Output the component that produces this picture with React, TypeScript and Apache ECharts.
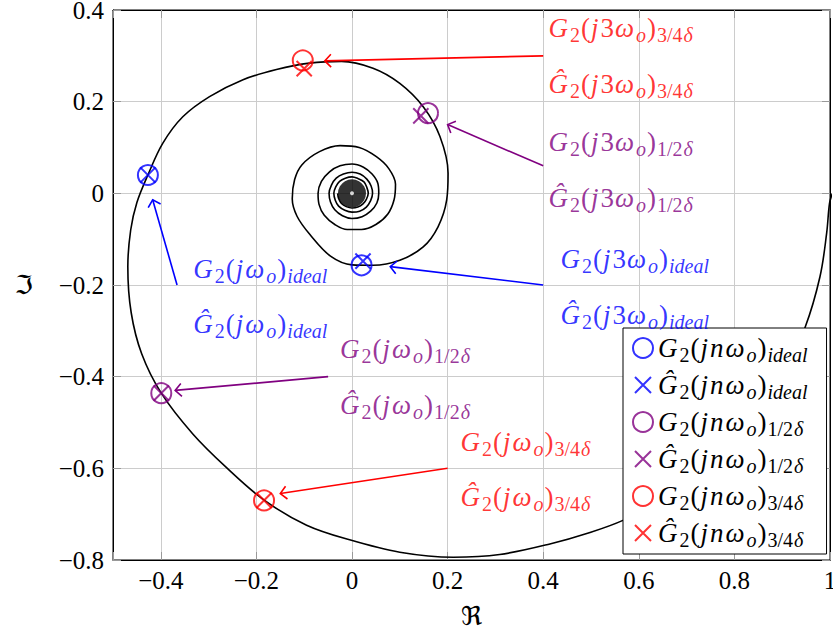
import { useEffect, useRef } from 'react';
import * as echarts from 'echarts';

// Nyquist spiral G2(jω) (Re, Im)
const spiral: [number, number][] = [
  [1.005, 0.0], [0.999, -0.022], [0.993, -0.087], [0.979, -0.182], [0.948, -0.292],
  [0.9, -0.4], [0.83, -0.51], [0.74, -0.605], [0.65, -0.668], [0.568, -0.713],
  [0.498, -0.74], [0.414, -0.765], [0.309, -0.788], [0.212, -0.794], [0.1, -0.783],
  [-0.005, -0.756], [-0.095, -0.724], [-0.183, -0.67], [-0.263, -0.598], [-0.333, -0.525],
  [-0.399, -0.436], [-0.44, -0.35], [-0.462, -0.26], [-0.469, -0.16], [-0.463, -0.08],
  [-0.45, -0.02], [-0.427, 0.04], [-0.396, 0.109], [-0.354, 0.167], [-0.298, 0.211],
  [-0.228, 0.248], [-0.158, 0.27], [-0.089, 0.284], [-0.022, 0.288], [0.044, 0.273],
  [0.1, 0.24], [0.149, 0.189], [0.184, 0.124], [0.201, 0.044], [0.198, -0.015],
  [0.18, -0.073], [0.149, -0.117], [0.1, -0.146], [0.044, -0.157], [0.0, -0.156],
  [-0.045, -0.137], [-0.088, -0.09], [-0.115, -0.05], [-0.125, -0.012],
  [-0.12, 0.03], [-0.105, 0.062], [-0.068, 0.091], [-0.025, 0.104],
  [0.015, 0.1], [0.051, 0.08], [0.077, 0.054], [0.091, 0.02],
  [0.088, -0.014], [0.075, -0.045], [0.05, -0.068], [0.02, -0.079], [-0.01, -0.079],
  [-0.036, -0.068], [-0.058, -0.048], [-0.069, -0.024], [-0.071, 0.0],
  [-0.064, 0.026], [-0.047, 0.047], [-0.025, 0.06], [0.0, 0.064],
  [0.024, 0.057], [0.042, 0.042], [0.054, 0.022], [0.056, 0.0],
  [0.052, -0.021], [0.039, -0.039], [0.021, -0.051], [0.0, -0.055],
  [-0.02, -0.049], [-0.036, -0.036], [-0.045, -0.019], [-0.048, 0.0],
  [-0.043, 0.018], [-0.033, 0.033], [-0.018, 0.042], [0.0, 0.046],
  [0.017, 0.042], [0.031, 0.031], [0.04, 0.016], [0.043, 0.0],
  [0.039, -0.016], [0.03, -0.03], [0.016, -0.039], [0.0, -0.041],
  [-0.015, -0.037], [-0.028, -0.028], [-0.035, -0.015], [-0.038, 0.0],
  [-0.034, 0.014], [-0.026, 0.026], [-0.014, 0.033], [0.0, 0.036],
  [0.013, 0.032], [0.025, 0.025], [0.031, 0.013], [0.034, 0.0],
  [0.03, -0.013], [0.023, -0.023], [0.012, -0.03], [0.0, -0.032],
  [-0.012, -0.029], [-0.022, -0.022], [-0.028, -0.011], [-0.03, 0.0],
];
// densely wound centre of the spiral
const spiralCore: [number, number][] = [[0, 0]];

// markers n = 1 and n = 3
const idealG: [number, number][] = [[-0.427, 0.04], [0.02, -0.157]];
const idealGhat: [number, number][] = [[-0.427, 0.04], [0.023, -0.148]];
const halfG: [number, number][] = [[-0.399, -0.436], [0.159, 0.175]];
const halfGhat: [number, number][] = [[-0.399, -0.436], [0.144, 0.169]];
const tqG: [number, number][] = [[-0.184, -0.67], [-0.103, 0.29]];
const tqGhat: [number, number][] = [[-0.184, -0.67], [-0.1, 0.272]];

// annotation arrows (from -> to)
const arrowFrom: [number, number][] = [[0.4, 0.3], [0.4, 0.06], [0.4, -0.2], [-0.366, -0.2], [-0.05, -0.4], [0.2, -0.6]];
const arrowTo: [number, number][] = [[-0.057, 0.289], [0.2, 0.15], [0.08, -0.16], [-0.417, -0.014], [-0.37, -0.43], [-0.15, -0.655]];
const arrowCase = ['tq', 'half', 'ideal', 'ideal', 'half', 'tq'];

// annotation texts: [hat, harmonic, subscript]
const annotTexts: [boolean, string, string][] = [
  [false, '3', '3/4'], [true, '3', '3/4'], [false, '3', '1/2'], [true, '3', '1/2'],
  [false, '3', 'ideal'], [true, '3', 'ideal'], [false, '', 'ideal'], [true, '', 'ideal'],
  [false, '', '1/2'], [true, '', '1/2'], [false, '', '3/4'], [true, '', '3/4'],
];
const annotX = [0.41, 0.41, 0.41, 0.41, 0.435, 0.435, -0.333, -0.333, -0.026, -0.026, 0.226, 0.226];
const annotY = [0.361, 0.239, 0.111, -0.01, -0.144, -0.266, -0.165, -0.286, -0.34, -0.461, -0.543, -0.663];
const annotCase = ['tq', 'tq', 'half', 'half', 'ideal', 'ideal', 'ideal', 'ideal', 'half', 'half', 'tq', 'tq'];

const COLORS: Record<string, string> = { ideal: '#0000ff', half: '#800080', tq: '#ff0000' };
const SERIF = 'Liberation Serif';
const CROSS = 'path://M0,0M20,20M2,2L18,18M18,2L2,18';

const rich = {
  mi: { fontFamily: SERIF, fontStyle: 'italic', fontSize: 27, lineHeight: 32, height: 30, padding: [0, 2, 0, 0] },
  mu: { fontFamily: SERIF, fontStyle: 'normal', fontSize: 27, lineHeight: 32, height: 30, padding: [0, 1, 0, 0] },
  si: { fontFamily: SERIF, fontStyle: 'italic', fontSize: 20, lineHeight: 32, height: 18, padding: [14, 1, 0, 0] },
  su: { fontFamily: SERIF, fontStyle: 'normal', fontSize: 20, lineHeight: 32, height: 18, padding: [14, 1, 0, 0] },
};

function mathText(hat: boolean, harm: string, sub: string): string {
  let s = `{mi|${hat ? 'Ĝ' : 'G'}}{su|2}{mu|(}{mi|j}`;
  if (harm === 'n') s += '{mi|n}';
  else if (harm) s += `{mu|${harm}}`;
  s += '{mi|ω}{si|o}{mu|)}';
  if (sub === 'ideal') s += '{si|ideal}';
  else s += `{su|${sub}}{si|δ}`;
  return s;
}

const legendNames = ['G_ideal', 'Gh_ideal', 'G_half', 'Gh_half', 'G_tq', 'Gh_tq'];
const legendText: Record<string, string> = {
  G_ideal: mathText(false, 'n', 'ideal'),
  Gh_ideal: mathText(true, 'n', 'ideal'),
  G_half: mathText(false, 'n', '1/2'),
  Gh_half: mathText(true, 'n', '1/2'),
  G_tq: mathText(false, 'n', '3/4'),
  Gh_tq: mathText(true, 'n', '3/4'),
};

function fmtTick(v: number): string {
  if (Math.abs(v) < 1e-9) return '0';
  if (Math.abs(Math.round(v / 0.2) * 0.2 - v) > 1e-6) return '';
  const r = Math.round(v * 10) / 10;
  return (r < 0 ? '\u2212' : '') + String(Math.abs(r));
}

function circleSeries(name: string, data: [number, number][], color: string) {
  return {
    name, type: 'scatter', data, symbol: 'circle', symbolSize: 20, z: 4,
    itemStyle: { color: 'rgba(0,0,0,0)', borderColor: color, borderWidth: 2 },
  };
}
function crossSeries(name: string, data: [number, number][], color: string) {
  return {
    name, type: 'scatter', data, symbol: CROSS, symbolSize: 19, z: 4,
    itemStyle: { color, borderColor: color, borderWidth: 2 },
  };
}

export default function App() {
  const ref = useRef<HTMLDivElement>(null);
  useEffect(() => {
    if (!ref.current) return;
    const chart = echarts.init(ref.current, undefined, { renderer: 'svg' });
    const axisCommon = {
      type: 'value',
      axisLine: { show: true, onZero: false, lineStyle: { color: '#000', width: 1 } },
      axisTick: { show: true, inside: true, length: 8, lineStyle: { color: '#999' } },
    };
    const option = {
      animation: false,
      backgroundColor: '#fff',
      textStyle: { fontFamily: SERIF },
      grid: {
        left: 113, right: 3, top: 10, bottom: 72, containLabel: false, outerBoundsMode: 'none',
        show: true, borderColor: '#000', borderWidth: 1, backgroundColor: 'transparent',
      },
      xAxis: [
        {
          ...axisCommon, min: -0.5, max: 1, splitNumber: 7, minInterval: 0.2, maxInterval: 0.2, position: 'bottom',
          splitLine: { show: true, lineStyle: { color: '#cccccc', width: 1 } },
          axisLabel: { formatter: fmtTick, fontFamily: SERIF, fontSize: 25, color: '#000', margin: 8, showMaxLabel: true, hideOverlap: false },
          name: '\u211C', nameLocation: 'middle', nameGap: 43,
          nameTextStyle: { fontFamily: 'DejaVu Sans', fontSize: 26, color: '#000' },
        },
        {
          ...axisCommon, min: -0.5, max: 1, splitNumber: 7, minInterval: 0.2, maxInterval: 0.2, position: 'top',
          splitLine: { show: false }, axisLabel: { show: false },
        },
      ],
      yAxis: [
        {
          ...axisCommon, min: -0.8, max: 0.4, interval: 0.2, position: 'left',
          splitLine: { show: true, lineStyle: { color: '#cccccc', width: 1 } },
          axisLabel: { formatter: fmtTick, fontFamily: SERIF, fontSize: 25, color: '#000', margin: 9 },
          name: '\u2111', nameLocation: 'middle', nameRotate: 0, nameGap: 80,
          nameTextStyle: { fontFamily: 'DejaVu Sans', fontSize: 26, color: '#000' },
        },
        {
          ...axisCommon, min: -0.8, max: 0.4, interval: 0.2, position: 'right',
          splitLine: { show: false }, axisLabel: { show: false },
        },
      ],
      legend: {
        orient: 'vertical', left: 623, top: 328,
        padding: [4, 18, 4, 9], itemGap: 4, itemWidth: 20, itemHeight: 20,
        backgroundColor: '#fff', borderColor: '#000', borderWidth: 1, borderRadius: 0,
        selectedMode: false,
        data: [
          { name: 'G_ideal', icon: 'circle', itemStyle: { color: 'rgba(0,0,0,0)', borderColor: COLORS.ideal, borderWidth: 2 } },
          { name: 'Gh_ideal', icon: CROSS, itemStyle: { color: COLORS.ideal, borderColor: COLORS.ideal, borderWidth: 2 } },
          { name: 'G_half', icon: 'circle', itemStyle: { color: 'rgba(0,0,0,0)', borderColor: COLORS.half, borderWidth: 2 } },
          { name: 'Gh_half', icon: CROSS, itemStyle: { color: COLORS.half, borderColor: COLORS.half, borderWidth: 2 } },
          { name: 'G_tq', icon: 'circle', itemStyle: { color: 'rgba(0,0,0,0)', borderColor: COLORS.tq, borderWidth: 2 } },
          { name: 'Gh_tq', icon: CROSS, itemStyle: { color: COLORS.tq, borderColor: COLORS.tq, borderWidth: 2 } },
        ],
        formatter: (n: string) => legendText[n],
        textStyle: { color: '#000', fontFamily: SERIF, rich },
      },
      series: [
        {
          name: 'spiral', type: 'line', data: spiral, showSymbol: false, symbol: 'none',
          smooth: 0.35, lineStyle: { color: '#000', width: 1.6 }, z: 2, clip: true,
        },
        {
          name: 'core', type: 'scatter', data: spiralCore, symbol: 'circle', symbolSize: 28,
          itemStyle: { color: '#000' }, z: 2,
        },
        {
          name: 'coreHole', type: 'scatter', data: spiralCore, symbol: 'circle', symbolSize: 4,
          itemStyle: { color: '#fff' }, z: 3,
        },
        circleSeries(legendNames[0], idealG, COLORS.ideal),
        crossSeries(legendNames[1], idealGhat, COLORS.ideal),
        circleSeries(legendNames[2], halfG, COLORS.half),
        crossSeries(legendNames[3], halfGhat, COLORS.half),
        circleSeries(legendNames[4], tqG, COLORS.tq),
        crossSeries(legendNames[5], tqGhat, COLORS.tq),
        {
          name: 'arrows', type: 'custom', z: 5,
          data: arrowFrom.map((f, i) => [f[0], f[1], arrowTo[i][0], arrowTo[i][1]]),
          encode: { x: [0, 2], y: [1, 3] },
          renderItem: (params: any, api: any) => {
            const p1 = api.coord([api.value(0), api.value(1)]);
            const p2 = api.coord([api.value(2), api.value(3)]);
            const color = COLORS[arrowCase[params.dataIndex]];
            const ang = Math.atan2(p1[1] - p2[1], p1[0] - p2[0]);
            const L = 9, spread = 0.8;
            const a = [p2[0] + L * Math.cos(ang + spread), p2[1] + L * Math.sin(ang + spread)];
            const b = [p2[0] + L * Math.cos(ang - spread), p2[1] + L * Math.sin(ang - spread)];
            return {
              type: 'group',
              children: [
                { type: 'line', shape: { x1: p1[0], y1: p1[1], x2: p2[0], y2: p2[1] }, style: { stroke: color, lineWidth: 1.6 } },
                { type: 'polyline', shape: { points: [a, p2, b] }, style: { stroke: color, fill: 'none', lineWidth: 1.6 } },
              ],
            };
          },
        },
        {
          name: 'labels', type: 'scatter', z: 6, symbolSize: 1,
          itemStyle: { color: 'rgba(0,0,0,0)' },
          data: annotX.map((x, i) => ({
            value: [x, annotY[i]],
            label: { color: COLORS[annotCase[i]] },
          })),
          label: {
            show: true, position: 'right', distance: 0, fontFamily: SERIF,
            formatter: (p: any) => {
              const t = annotTexts[p.dataIndex];
              return mathText(t[0], t[1], t[2]);
            },
            rich,
          },
        },
      ],
    };
    chart.setOption(option as any);
    return () => chart.dispose();
  }, []);
  return <div ref={ref} style={{ position: 'fixed', left: 0, top: 0, width: 833, height: 632 }} />;
}
